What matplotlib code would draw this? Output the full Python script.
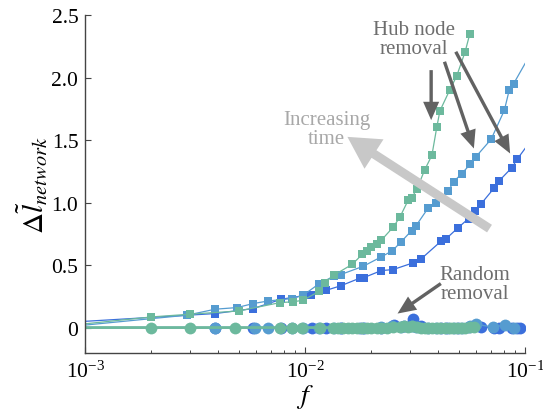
import matplotlib
matplotlib.use('Agg')
import matplotlib.pyplot as plt
from matplotlib.ticker import FixedLocator, FixedFormatter, LogLocator, NullFormatter

plt.rcParams['font.family'] = 'serif'
plt.rcParams['font.serif'] = ['Liberation Serif', 'DejaVu Serif']
plt.rcParams['mathtext.fontset'] = 'stix'

# hub node removal (squares), first point sits on the left edge
green_f = [0.001, 0.002, 0.003, 0.005, 0.0077, 0.0088, 0.0098, 0.0116, 0.0123, 0.0135,
           0.0164, 0.0182, 0.0191, 0.02, 0.0212, 0.0222, 0.0252, 0.027, 0.0294, 0.0305,
           0.0322, 0.0349, 0.0377, 0.0397, 0.041, 0.0454, 0.0488, 0.0534, 0.056]
green_l = [0.03, 0.085, 0.107, 0.133, 0.2, 0.206, 0.219, 0.291, 0.36, 0.419,
           0.507, 0.587, 0.616, 0.646, 0.672, 0.699, 0.806, 0.886, 1.019, 1.038,
           1.107, 1.259, 1.379, 1.606, 1.734, 1.9, 2.01, 2.208, 2.347]

lblue_f = [0.001, 0.0029, 0.0039, 0.0049, 0.0058, 0.0068, 0.0087, 0.0098, 0.0116, 0.0135,
           0.0145, 0.0184, 0.0222, 0.0249, 0.0273, 0.0305, 0.0319, 0.0362, 0.0395, 0.0446,
           0.0474, 0.0515, 0.0564, 0.0597, 0.0701, 0.0805, 0.0847, 0.0888, 0.1]
lblue_l = [0.02, 0.099, 0.147, 0.16, 0.192, 0.213, 0.232, 0.259, 0.352, 0.411,
           0.424, 0.491, 0.566, 0.614, 0.686, 0.776, 0.814, 0.955, 0.998, 1.089,
           1.168, 1.232, 1.308, 1.366, 1.507, 1.739, 1.9, 1.953, 2.113]

dblue_f = [0.001, 0.0039, 0.0058, 0.0078, 0.0106, 0.0125, 0.0145, 0.0177, 0.0185, 0.0222,
           0.0251, 0.031, 0.0337, 0.0414, 0.0437, 0.0493, 0.0553, 0.0595, 0.0629, 0.0726,
           0.0762, 0.0871, 0.0923, 0.1]
dblue_l = [0.05, 0.112, 0.152, 0.227, 0.264, 0.299, 0.334, 0.395, 0.40, 0.456,
           0.464, 0.518, 0.55, 0.69, 0.71, 0.795, 0.872, 0.93, 0.987, 1.12,
           1.174, 1.28, 1.35, 1.433]

# random removal (circles)
green_rf = [0.001, 0.002, 0.003, 0.0048, 0.0077, 0.0087, 0.0097, 0.0117, 0.0134, 0.0141,
            0.0148, 0.0156, 0.0164, 0.0172, 0.0182, 0.0191, 0.02, 0.0212, 0.0222, 0.0236,
            0.0252, 0.027, 0.0282, 0.0294, 0.0305, 0.0322, 0.0335, 0.0349, 0.0363, 0.0377,
            0.0397, 0.041, 0.0432, 0.0454, 0.0471, 0.0488, 0.051, 0.0534, 0.056, 0.0585]
green_rl = [0, 0, 0, 0, 0, 0, 0, 0, 0, 0,
            0, 0, 0, 0, 0, 0, 0, 0, 0, 0,
            0.005, 0.005, 0.01, 0.005, 0.012, 0.005, 0, 0, 0, 0,
            0, 0, 0, 0, 0, 0, 0, 0, 0.005, 0.005]

lblue_rf = [0.001, 0.0039, 0.0059, 0.0068, 0.0087, 0.0098, 0.0116, 0.0135, 0.0145, 0.0184,
            0.0222, 0.0249, 0.0273, 0.0305, 0.0319, 0.0362, 0.0395, 0.0446, 0.0474, 0.0515,
            0.0564, 0.06, 0.0713, 0.081, 0.0888]
lblue_rl = [0, 0, 0, 0, 0, 0, 0, 0, 0, 0,
            0.005, 0.01, 0.005, 0.01, 0.005, 0, 0, 0, 0, 0,
            0.01, 0.025, 0.005, 0.02, 0.0]

dblue_rf = [0.001, 0.0039, 0.0058, 0.0078, 0.0107, 0.0125, 0.0145, 0.0177, 0.0185, 0.0222,
            0.0253, 0.0282, 0.031, 0.0337, 0.0414, 0.0437, 0.0493, 0.0553, 0.0629, 0.0726,
            0.0762, 0.0871, 0.0923, 0.095]
dblue_rl = [0, 0, 0, 0, 0, 0, 0, 0, 0, 0,
            0.02, 0.01, 0.065, 0.01, 0, 0, 0, 0.005, 0.005, 0,
            0, 0, 0, 0]

c_green = '#6cb99d'
c_lblue = '#569cd0'
c_dblue = '#3b6fdc'

fig = plt.figure(figsize=(5.43, 4.14), dpi=100)
ax = fig.add_axes([0.157, 0.146, 0.81, 0.815])

# circles (random removal)
ax.plot(dblue_rf, dblue_rl, '-o', color=c_dblue, lw=1.0, ms=8.5, mew=0, markevery=slice(1, None))
ax.plot(lblue_rf, lblue_rl, '-o', color=c_lblue, lw=1.0, ms=8.5, mew=0, markevery=slice(1, None))
ax.plot(green_rf, green_rl, '-o', color=c_green, lw=2.0, ms=8.5, mew=0, markevery=slice(1, None))

# squares (hub node removal)
ax.plot(dblue_f, dblue_l, '-s', color=c_dblue, lw=0.9, ms=5.8, mew=0, markevery=slice(1, -1))
ax.plot(lblue_f, lblue_l, '-s', color=c_lblue, lw=0.9, ms=5.8, mew=0, markevery=slice(1, -1))
ax.plot(green_f, green_l, '-s', color=c_green, lw=0.9, ms=5.8, mew=0, markevery=slice(1, None))

ax.set_xscale('log')
ax.set_xlim(1e-3, 1e-1)
ax.set_ylim(-0.2, 2.5)

ax.yaxis.set_major_locator(FixedLocator([0, 0.5, 1.0, 1.5, 2.0, 2.5]))
ax.yaxis.set_major_formatter(FixedFormatter(['0', '0.5', '1.0', '1.5', '2.0', '2.5']))
ax.xaxis.set_minor_locator(LogLocator(base=10, subs=range(2, 10)))
ax.xaxis.set_minor_formatter(NullFormatter())

for s in ['top', 'right']:
    ax.spines[s].set_visible(False)
for s in ['left', 'bottom']:
    ax.spines[s].set_color('#444444')
    ax.spines[s].set_linewidth(1.0)

ax.tick_params(which='major', direction='in', length=4, width=0.8, colors='#444444',
               labelsize=15.5, labelcolor='black')
ax.tick_params(axis='y', which='major', pad=5)
ax.tick_params(axis='x', which='major', pad=6)
ax.tick_params(which='minor', direction='in', length=2.5, width=0.7, colors='#444444')

ax.set_xlabel(r'$f$', fontsize=20, labelpad=0)
ax.set_ylabel(r'$\Delta\tilde{l}_{network}$', fontsize=21, labelpad=2)

dark = '#626262'
small_arrow = dict(arrowstyle='simple,head_length=1.2,head_width=1.05,tail_width=0.22',
                   color=dark, mutation_scale=11, shrinkA=0, shrinkB=0, lw=0)
ax.annotate('', xy=(0.0374, 1.66), xytext=(0.0374, 2.06), arrowprops=small_arrow)
ax.annotate('', xy=(0.0585, 1.433), xytext=(0.043, 2.127), arrowprops=small_arrow)
ax.annotate('', xy=(0.0855, 1.393), xytext=(0.0484, 2.207), arrowprops=small_arrow)
ax.annotate('', xy=(0.0263, 0.112), xytext=(0.0414, 0.352), arrowprops=small_arrow)

big_arrow = dict(arrowstyle='simple,head_length=0.95,head_width=1.05,tail_width=0.27',
                 color='#c8c8c8', mutation_scale=24, shrinkA=0, shrinkB=0, lw=0)
ax.annotate('', xy=(0.01556, 1.526), xytext=(0.0689, 0.792), arrowprops=big_arrow)

ax.text(0.0312, 2.31, 'Hub node\nremoval', color='#6e6e6e', fontsize=15,
        ha='center', va='center', linespacing=1.0)
ax.text(0.01253, 1.59, 'Increasing\ntime', color='#a8a8a8', fontsize=15,
        ha='center', va='center', linespacing=1.0)
ax.text(0.0589, 0.347, 'Random\nremoval', color='#6e6e6e', fontsize=15,
        ha='center', va='center', linespacing=1.0)

fig.savefig('out.png', dpi=100)
